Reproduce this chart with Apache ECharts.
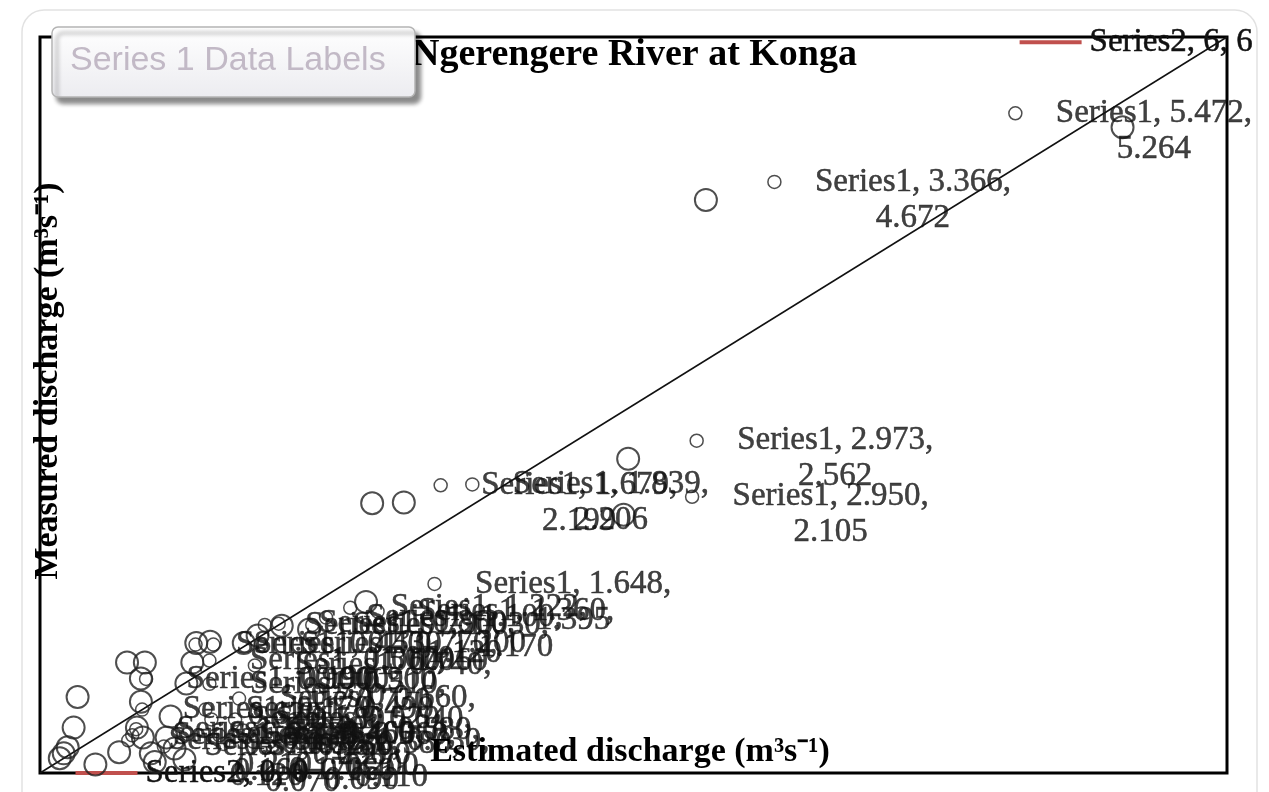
<!DOCTYPE html>
<html>
<head>
<meta charset="utf-8">
<script src="https://cdn.jsdelivr.net/npm/echarts@6/dist/echarts.min.js"></script>
<style>
html,body{margin:0;padding:0;background:#fff;}
#chart{width:1269px;height:792px;}
</style>
</head>
<body>
<div id="chart"></div>
<script>
// ---- data ----
const chartTitle = 'Ngerengere River at Konga';
const xAxisTitle = 'Estimated discharge (m³s⁻¹)';
const yAxisTitle = 'Measured discharge (m³s⁻¹)';
const boxText = 'Series 1 Data Labels';
const s1Name = 'Series1';
const s1x = [0.10,0.12,0.14,0.17,0.19,0.28,0.40,0.44,0.53,0.51,0.51,0.49,0.52,0.56,0.58,0.66,0.64,0.68,0.73,0.79,0.86,0.77,0.74,1.03,1.10,1.222,1.36,1.648,1.679,1.839,2.950,2.973,3.366,5.472];
const s1y = [0.12,0.16,0.21,0.37,0.62,0.07,0.17,0.90,0.90,0.77,0.58,0.37,0.29,0.16,0.09,0.46,0.29,0.20,0.11,1.06,1.07,0.90,0.73,1.06,1.12,1.20,1.17,1.395,2.199,2.206,2.105,2.562,4.672,5.264];
const s2Name = 'Series2';
const s2x = [0, 6];
const s2y = [0, 6];
const axisMin = 0;
const axisMax = 6;

// ---- chart ----
const serif = 'Liberation Serif';
const chart = echarts.init(document.getElementById('chart'), null, {renderer: 'canvas'});
const s1data = s1x.map((x, i) => [x, s1y[i]]);
const s2data = s2x.map((x, i) => [x, s2y[i]]);
const chartRight = 1253;

function clampRight(p) {
  const r = p.labelRect;
  if (r.x + r.width > chartRight) {
    return { x: chartRight - r.width, y: r.y + 4, align: 'left', verticalAlign: 'top' };
  }
  return {};
}

const labelText = {
  fontFamily: serif, fontSize: 33, color: '#111', lineHeight: 36,
  textBorderColor: '#111', textBorderWidth: 0.5
};

const option = {
  animation: false,
  backgroundColor: '#ffffff',
  title: {
    text: chartTitle,
    left: 'center',
    top: 31,
    textStyle: { fontFamily: serif, fontWeight: 'bold', fontSize: 38, color: '#000' }
  },
  grid: {
    left: 40, right: 42, top: 37, bottom: 19,
    show: true, borderColor: '#000', borderWidth: 3, backgroundColor: 'transparent'
  },
  xAxis: {
    type: 'value', min: axisMin, max: axisMax,
    axisLine: { show: false }, axisTick: { show: false },
    axisLabel: { show: false }, splitLine: { show: false }
  },
  yAxis: {
    type: 'value', min: axisMin, max: axisMax,
    axisLine: { show: false }, axisTick: { show: false },
    axisLabel: { show: false }, splitLine: { show: false }
  },
  series: [
    {
      name: s2Name,
      type: 'line',
      data: s2data,
      symbol: 'circle',
      symbolSize: 1,
      showSymbol: true,
      itemStyle: { color: 'rgba(0,0,0,0)' },
      lineStyle: { color: '#111', width: 1.5 },
      z: 3,
      label: {
        show: true,
        position: 'right',
        distance: 35,
        formatter: p => `{r| }{g| }{t|${s2Name}, ${p.value[0]}, ${p.value[1]}}`,
        rich: {
          r: { width: 62, height: 4, backgroundColor: '#c0504d', align: 'left' },
          g: { width: 8, align: 'left' },
          t: Object.assign({ align: 'left' }, labelText)
        }
      },
      labelLayout: clampRight
    },
    {
      name: s1Name,
      type: 'scatter',
      data: s1data,
      symbol: 'circle',
      symbolSize: 22,
      itemStyle: { color: 'rgba(0,0,0,0)', borderColor: '#222', borderWidth: 2 },
      z: 4,
      label: {
        show: true,
        position: 'right',
        distance: 50,
        fontFamily: serif,
        fontSize: 33,
        lineHeight: 36,
        color: '#111',
        formatter: p => `{k| }{g| }{t|${s1Name}, ${p.value[0].toFixed(3)},}\n{s| }{g| }{t|${p.value[1].toFixed(3)}}`,
        rich: {
          k: { width: 13, height: 13, borderColor: '#222', borderWidth: 1.5, borderRadius: 7, align: 'left' },
          s: { width: 13, height: 13, align: 'left' },
          g: { width: 34, align: 'left' },
          t: Object.assign({ align: 'center' }, labelText)
        }
      },
      labelLayout: clampRight
    }
  ],
  graphic: [
    {
      type: 'rect', z: 1, silent: true,
      shape: { x: 22, y: 10, width: 1235, height: 820, r: 22 },
      style: { fill: 'none', stroke: '#e2e2e2', lineWidth: 1.5 }
    },
    {
      type: 'text', z: 50, silent: true,
      x: 630, y: 752,
      style: { text: xAxisTitle, fontFamily: serif, fontWeight: 'bold', fontSize: 34, fill: '#000', align: 'center', verticalAlign: 'middle' }
    },
    {
      type: 'text', z: 50, silent: true,
      x: 48, y: 381, rotation: Math.PI / 2,
      style: { text: yAxisTitle, fontFamily: serif, fontWeight: 'bold', fontSize: 34, fill: '#000', align: 'center', verticalAlign: 'middle' }
    },
    {
      type: 'rect', z: 100, silent: true,
      shape: { x: 52, y: 27, width: 363, height: 70, r: 6 },
      style: {
        fill: new echarts.graphic.LinearGradient(0, 0, 0, 1, [
          { offset: 0, color: '#ffffff' }, { offset: 1, color: '#ececf0' }
        ]),
        stroke: '#b4b4b4', lineWidth: 1.5,
        shadowColor: 'rgba(0,0,0,0.45)', shadowBlur: 4, shadowOffsetX: 5, shadowOffsetY: 6
      }
    },
    {
      type: 'text', z: 101, silent: true,
      x: 70, y: 61,
      style: { text: boxText, fontFamily: 'Liberation Sans', fontSize: 34, fill: '#c2b9c6', align: 'left', verticalAlign: 'middle' }
    }
  ]
};
chart.setOption(option);
</script>
</body>
</html>
